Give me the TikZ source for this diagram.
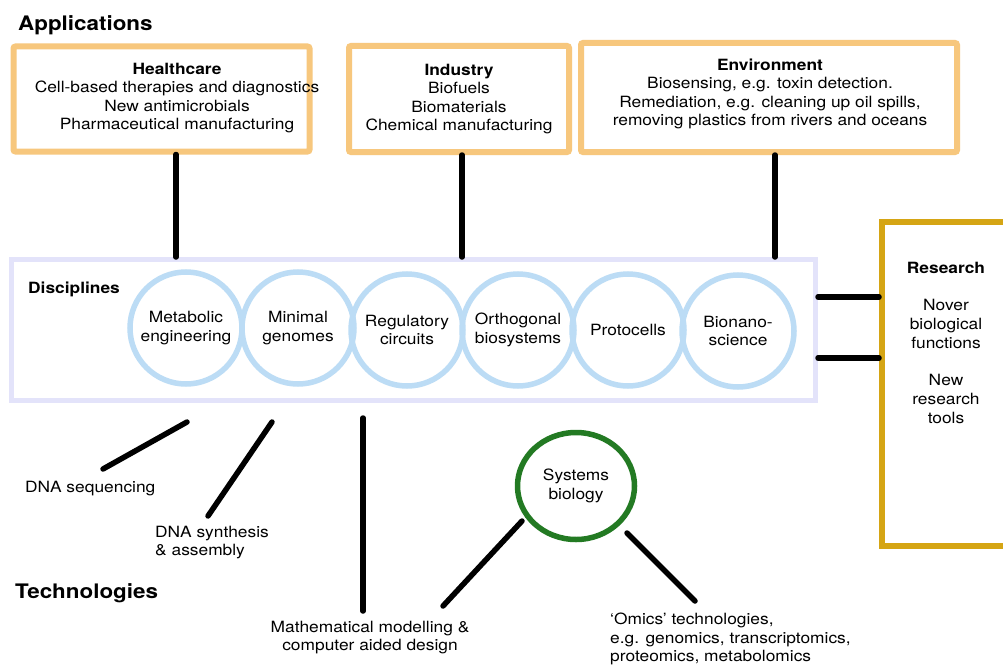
\documentclass[tikz,border=0pt]{standalone}
\usepackage{fontspec}
\setmainfont{TeX Gyre Heros}[FakeStretch=1.12]
\usetikzlibrary{shapes.geometric}
\definecolor{apporange}{HTML}{F7C77D}
\definecolor{disclav}{HTML}{E3E3FA}
\definecolor{ringblue}{HTML}{BCDCF5}
\definecolor{resgold}{HTML}{D5A514}
\definecolor{sysgreen}{HTML}{237A23}
\newcommand\txtf{\fontsize{15.5}{18.6}\selectfont}
\newcommand\headf{\fontsize{20}{22}\selectfont\bfseries}
\begin{document}
\begin{tikzpicture}[x=1pt,y=-1pt,
  appbox/.style={draw=apporange, line width=6pt, rounded corners=2pt, inner sep=0pt},
  txt/.style={font=\txtf, align=center, inner sep=0pt, text=black},
  ltxt/.style={font=\txtf, align=left, inner sep=0pt, anchor=west, text=black},
  head/.style={font=\headf, inner sep=0pt, anchor=west},
  ring/.style={circle, draw=ringblue, line width=5.5pt, minimum size=112pt, inner sep=0pt, font=\txtf, align=center},
  link/.style={line width=5.5pt, line cap=round, draw=black}]
\useasboundingbox (0,0) rectangle (1003,666);
\fill[white] (0,0) rectangle (1003,666);

% Applications
\node[head] (apptitle) at (18,25) {Applications};
\node[appbox, minimum width=296pt, minimum height=105pt] (hc) at (161.5,99) {};
\node[appbox, minimum width=220pt, minimum height=106pt] (ind) at (459,99) {};
\node[appbox, minimum width=376pt, minimum height=109pt] (env) at (769,97.5) {};
\node[txt] (hctxt) at (177,98) {\textbf{Healthcare}\\Cell-based therapies and diagnostics\\New antimicrobials\\Pharmaceutical manufacturing};
\node[txt] (indtxt) at (459,99) {\textbf{Industry}\\Biofuels\\Biomaterials\\Chemical manufacturing};
\node[txt] (envtxt) at (770,94) {\textbf{Environment}\\Biosensing, e.g. toxin detection.\\Remediation, e.g. cleaning up oil spills,\\removing plastics from rivers and oceans};

% Disciplines
\node[draw=disclav, line width=5pt, minimum width=804pt, minimum height=141pt, inner sep=0pt] (disc) at (413.5,330) {};
\node[font=\txtf\bfseries, inner sep=0pt, anchor=west] (disctitle) at (28,289) {Disciplines};
\node[ring] (metab) at (186,328) {Metabolic\\engineering};
\node[ring] (minim) at (298,328) {Minimal\\genomes};
\node[ring] (regul) at (407,330) {Regulatory\\circuits};
\node[ring] (ortho) at (518,330) {Orthogonal\\biosystems};
\node[ring] (proto) at (628,330) {Protocells};
\node[ring] (bnano) at (738,331) {Bionano-\\science};

% connectors applications -> disciplines
\coordinate (c1) at (176,0);
\coordinate (c2) at (462,0);
\coordinate (c3) at (775,0);
\draw[link] (hc.south -| c1) -- (disc.north -| c1);
\draw[link] (ind.south -| c2) -- (disc.north -| c2);
\draw[link] (env.south -| c3) -- (disc.north -| c3);

% Research
\node[draw=resgold, line width=6pt, minimum width=128pt, minimum height=324pt, inner sep=0pt] (res) at (946,384) {};
\node[font=\txtf\bfseries, inner sep=0pt] (restitle) at (946,268) {Research};
\node[txt] (res1) at (946,324) {Nover\\biological\\functions};
\node[txt] (res2) at (946,399) {New\\research\\tools};
\coordinate (r1) at (0,297);
\coordinate (r2) at (0,358);
\draw[link] (disc.east |- r1) -- (res.west |- r1);
\draw[link] (disc.east |- r2) -- (res.west |- r2);

% Technologies
\node[head] (techtitle) at (15,593) {Technologies};
\node[ltxt] (dnaseq) at (25,489) {DNA sequencing};
\node[ltxt] (dnasyn) at (155,542.5) {DNA synthesis\\\& assembly};
\node[txt] (math) at (370,637.5) {Mathematical modelling \&\\computer aided design};
\node[ellipse, draw=sysgreen, line width=5.5pt, minimum width=117pt, minimum height=107pt, inner sep=0pt, font=\txtf, align=center] (sys) at (576,486) {Systems\\biology};
\node[ltxt] (omics) at (610,639) {`Omics' technologies,\\e.g. genomics, transcriptomics,\\proteomics, metabolomics};

\coordinate (t1a) at (187,422); \coordinate (t1b) at (103,469);
\coordinate (t2a) at (272,422); \coordinate (t2b) at (208,516);
\coordinate (t3a) at (363,418); \coordinate (t3b) at (363,611);
\coordinate (t4a) at (522,521); \coordinate (t4b) at (443,606);
\coordinate (t5a) at (627,533); \coordinate (t5b) at (695,601);
\draw[link] (t1a) -- (t1b);
\draw[link] (t2a) -- (t2b);
\draw[link] (t3a) -- (t3b);
\draw[link] (t4a) -- (t4b);
\draw[link] (t5a) -- (t5b);
\end{tikzpicture}
\end{document}
